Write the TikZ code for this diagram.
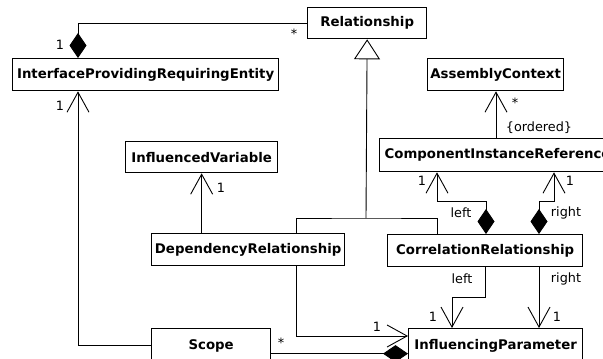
\documentclass[tikz,border=0pt]{standalone}
\usepackage{fontspec}
\setmainfont{DejaVu Sans}
\usetikzlibrary{arrows.meta,calc}
\tikzset{
  cls/.style={draw, line width=1.3pt, anchor=north west, inner sep=0pt,
    font=\fontsize{13.3}{15}\selectfont\bfseries, fill=white},
  conn/.style={line width=0.9pt},
  nav/.style={conn, -{Straight Barb[length=20pt,width=22pt,line width=0.9pt]}},
  gen/.style={conn, -{Triangle[open,length=20pt,width=26pt,line width=0.9pt,fill=white]}},
  comp/.style={conn, {Diamond[length=25pt,width=17pt]}-},
  compnav/.style={conn, {Diamond[length=25pt,width=17pt]}-{Straight Barb[length=20pt,width=22pt,line width=0.9pt]}},
  lbl/.style={inner sep=0pt, font=\fontsize{12.8}{14}\selectfont}
}
\begin{document}
\begin{tikzpicture}[x=1pt,y=-1pt]
\useasboundingbox (0,0) rectangle (603,359);
\clip (0,0) rectangle (603,359);

% classes
\node[cls, minimum width=119pt, minimum height=31pt] (rel) at (307,7) {Relationship};
\node[cls, minimum width=266pt, minimum height=32pt] (ipre) at (12,58) {InterfaceProvidingRequiringEntity};
\node[cls, minimum width=136pt, minimum height=32pt] (ac) at (427,58) {AssemblyContext};
\node[cls, minimum width=152pt, minimum height=31pt] (iv) at (125,141) {InfluencedVariable};
\node[cls, minimum height=33pt, inner xsep=5pt] (cir) at (379,138) {ComponentInstanceReference};
\node[cls, minimum width=193pt, minimum height=32pt] (dep) at (151,233) {DependencyRelationship};
\node[cls, minimum width=195pt, minimum height=32pt] (corr) at (387,234) {CorrelationRelationship};
\node[cls, minimum width=119pt, minimum height=34pt] (scope) at (151,328) {Scope};
\node[cls, minimum width=174pt, minimum height=34pt] (ip) at (408,328) {InfluencingParameter};

% composition: entity owns relationships
\draw[comp] ($(ipre.north west)+(66,0)$) |- (rel.west);

% generalization
\coordinate (gj) at (366,218);
\draw[gen] (gj) -- (rel.south);
\draw[conn] ($(dep.north west)+(145,0)$) |- (gj) -| ($(corr.north west)+(50,0)$);

% scope to entity
\draw[nav] (scope.west) -| ($(ipre.south west)+(66,0)$);

% dependency to influenced variable
\draw[nav] (dep.north -| iv.south) -- (iv.south);

% dependency to influencing parameter
\draw[nav] ($(dep.south west)+(145,0)$) |- ($(ip.north west)+(0,8)$);

% scope composition
\draw[conn, -{Diamond[length=25pt,width=17pt]}] ($(scope.east)+(0,8)$) -- ($(ip.west)+(0,8)$);

% component instance reference to assembly context
\draw[nav] ($(cir.north west)+(117,0)$) -- ($(ac.south west)+(69,0)$);

% correlation to component instance references
\draw[compnav] ($(corr.north west)+(99,0)$) -- ++(0,-33) -| ($(cir.south west)+(58,0)$);
\draw[compnav] ($(corr.north west)+(152,0)$) -- ++(0,-33) -| ($(cir.south west)+(175,0)$);

% correlation to influencing parameters
\draw[nav] ($(corr.south west)+(98,0)$) -- ++(0,30) -| ($(ip.north west)+(44,0)$);
\draw[nav] ($(corr.south west)+(152,0)$) -- ($(ip.north west)+(131,0)$);

% multiplicities and role names
\node[lbl] (m1) at (60,45) {1};
\node[lbl] (m2) at (294,34) {*};
\node[lbl] (m3) at (60,106) {1};
\node[lbl] (m4) at (221,188) {1};
\node[lbl] (m5) at (515,103) {*};
\node[lbl] (ord) at (539,128) {\{ordered\}};
\node[lbl] (m6) at (422,181) {1};
\node[lbl] (m7) at (570,181) {1};
\node[lbl] (r1) at (461,213) {left};
\node[lbl] (r2) at (566,213) {right};
\node[lbl] (r3) at (462,279) {left};
\node[lbl] (r4) at (566,279) {right};
\node[lbl] (m8) at (433,317) {1};
\node[lbl] (m9) at (557,317) {1};
\node[lbl] (m10) at (377,327) {1};
\node[lbl] (m11) at (281,343) {*};
\end{tikzpicture}
\end{document}
